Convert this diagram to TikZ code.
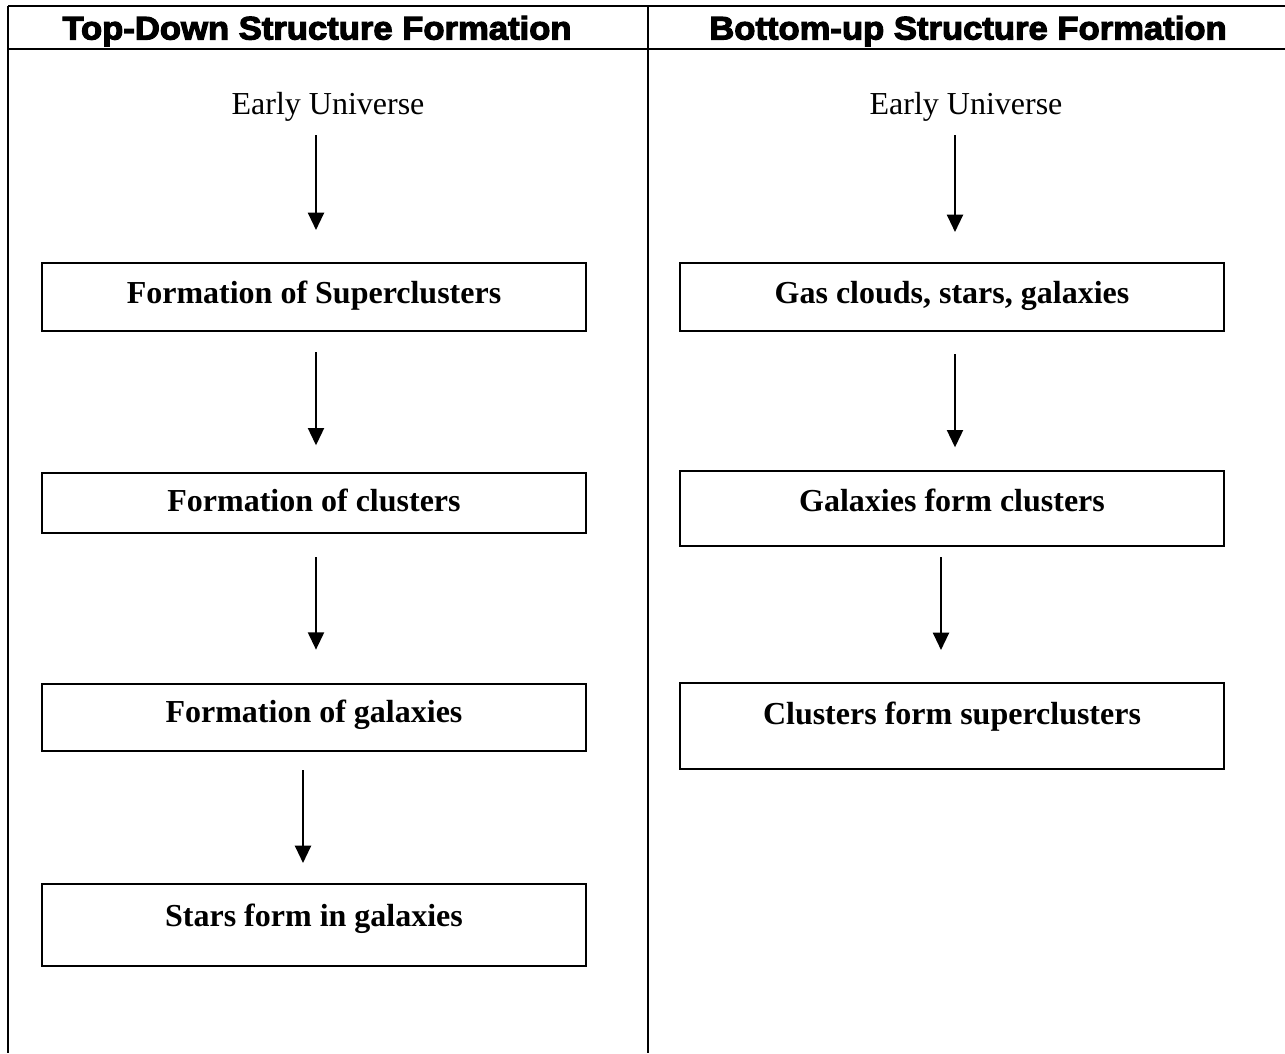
\documentclass[tikz,border=0pt]{standalone}
\usepackage{fontspec}
\setmainfont{Liberation Serif}
\newfontfamily\headfont{Liberation Sans Bold}[FakeBold=3.5,FakeStretch=1.06]
\usetikzlibrary{arrows.meta}

\tikzset{
  colhead/.style={font=\headfont\fontsize{24.5}{28}\selectfont,inner sep=0pt,anchor=base},
  origin/.style={font=\fontsize{24}{28}\selectfont,inner sep=0pt,anchor=base},
  stage/.style={draw,line width=1.8pt,minimum width=408pt,inner xsep=0pt,inner ysep=0pt,
    font=\bfseries\fontsize{24}{28}\selectfont,anchor=north},
  flow/.style={line width=1.6pt,-{Triangle[width=12pt,length=13pt]}},
}

\begin{document}
\begin{tikzpicture}[x=0.75pt,y=-0.75pt]
\useasboundingbox (0,0) rectangle (1285,1053);
%Table frame
\draw[line width=1.8pt](8,6)--(1285,6);
\draw[line width=1.8pt](8,49)--(1285,49);
\draw[line width=1.8pt](8,6)--(8,1053);
\draw[line width=1.8pt](648,6)--(648,1053);
%Column headings
\node[colhead] (hleft) at (317,39.5) {Top-Down Structure Formation};
\node[colhead] (hright) at (968,39.5) {Bottom-up Structure Formation};
%Top-down column
\node[origin] (eul) at (328,114) {Early Universe};
\node[stage,text height=30pt,text depth=21pt] (sc) at (314,262) {Formation of Superclusters};
\node[stage,text height=28.5pt,text depth=16.5pt] (cl) at (314,472) {Formation of clusters};
\node[stage,text height=28.5pt,text depth=21.75pt] (ga) at (314,683) {Formation of galaxies};
\node[stage,text height=31.5pt,text depth=30pt] (st) at (314,883) {Stars form in galaxies};
\draw[flow,shorten <=10.5pt,shorten >=24pt]([xshift=-9pt]eul.south)--([xshift=1.5pt]sc.north);
\draw[flow,shorten <=15pt,shorten >=20pt]([xshift=1.5pt]sc.south)--([xshift=1.5pt]cl.north);
\draw[flow,shorten <=17pt,shorten >=25pt]([xshift=1.5pt]cl.south)--([xshift=1.5pt]ga.north);
\draw[flow,shorten <=13.5pt,shorten >=15pt]([xshift=-8.25pt]ga.south)--([xshift=-8.25pt]st.north);
%Bottom-up column
\node[origin] (eur) at (966,114) {Early Universe};
\node[stage,text height=30pt,text depth=21pt] (gs) at (952,262) {Gas clouds, stars, galaxies};
\node[stage,text height=30pt,text depth=26.25pt] (gc) at (952,470) {Galaxies form clusters};
\node[stage,text height=30.75pt,text depth=33.75pt] (cs) at (952,682) {Clusters form superclusters};
\draw[flow,shorten <=10.5pt,shorten >=22.5pt]([xshift=-8.25pt]eur.south)--([xshift=2.25pt]gs.north);
\draw[flow,shorten <=16.5pt,shorten >=17pt]([xshift=2.25pt]gs.south)--([xshift=2.25pt]gc.north);
\draw[flow,shorten <=7.5pt,shorten >=24pt]([xshift=-8.25pt]gc.south)--([xshift=-8.25pt]cs.north);
\end{tikzpicture}
\end{document}
